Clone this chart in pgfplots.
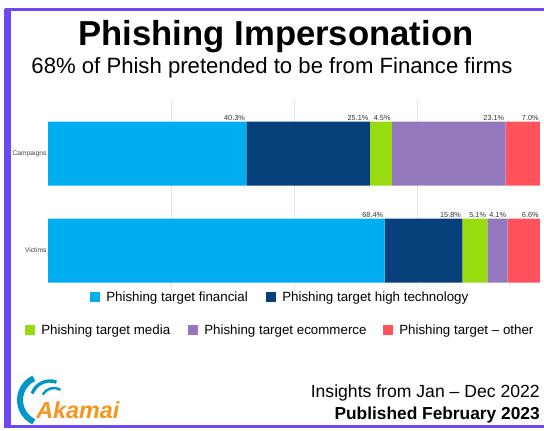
\documentclass[border=0pt]{standalone}
\usepackage{pgfplots}
\pgfplotsset{compat=1.18}
\usepackage{fontspec}
\setmainfont{Liberation Sans}

\definecolor{finance}{RGB}{0,174,239}
\definecolor{hightech}{RGB}{6,63,122}
\definecolor{media}{RGB}{153,221,17}
\definecolor{ecomm}{RGB}{148,120,190}
\definecolor{other}{RGB}{255,82,92}
\definecolor{frame}{RGB}{110,72,245}
\definecolor{akaorange}{RGB}{247,148,29}
\definecolor{akablue}{RGB}{0,150,200}

\begin{document}
\begin{tikzpicture}[x=0.75pt,y=0.75pt]
\path[use as bounding box] (0,0) rectangle (544,430);
% frame
\draw[frame, line width=4.5] (7.5,2) -- (7.5,421.5);
\draw[frame, line width=2.6] (5,420.5) -- (544,420.5);
\draw[frame, line width=2.2] (5,3.5) -- (544,3.5);

% titles
\node[anchor=base, inner sep=0, font=\fontsize{26}{30}\selectfont\bfseries] at (276,385) {Phishing Impersonation};
\node[anchor=base, inner sep=0, font=\fontsize{16.6}{20}\selectfont] at (272,357) {68\% of Phish pretended to be from Finance firms};

\begin{axis}[
    at={(36pt,105pt)}, anchor=south west,
    width=369pt, height=142.5pt, scale only axis,
    xbar stacked,
    bar width=48pt,
    xmin=0, xmax=100,
    ymin=-0.407, ymax=1.552,
    xtick={25,50,75}, xticklabels={},
    xmajorgrids, grid style={black!10},
    ytick={0,1}, yticklabels={Victims,Campaigns},
    yticklabel style={font=\fontsize{5}{6}\selectfont, text=black!75, inner sep=1pt},
    axis line style={draw=none},
    major tick style={draw=none},
    /pgf/number format/assume math mode=true,
    point meta=explicit,
    visualization depends on={rawx \as \segw},
    nodes near coords={\pgfmathprintnumber[fixed,precision=1,fixed zerofill]{\pgfplotspointmeta}\%},
    every node near coord/.append style={anchor=south east, yshift=24pt, xshift={\segw*1.845pt},
        inner sep=0.8pt, font=\fontsize{5.5}{6}\selectfont, text=black!80},
]
\addplot[fill=finance, draw=none] coordinates {(68.4,0) [68.4] (40.3,1) [40.3]};
\addplot[fill=hightech, draw=none] coordinates {(15.8,0) [15.8] (25.1,1) [25.1]};
\addplot[fill=media, draw=none] coordinates {(5.1,0) [5.1] (4.5,1) [4.5]};
\addplot[fill=ecomm, draw=none] coordinates {(4.1,0) [4.1] (23.1,1) [23.1]};
\addplot[fill=other, draw=none] coordinates {(6.6,0) [6.6] (7.0,1) [7.0]};
\end{axis}

% legend
\begin{scope}[every node/.style={anchor=base west, inner sep=0, font=\fontsize{10}{12}\selectfont}]
\fill[finance] (90,128) rectangle (100,138);
\node at (106,128.5) {Phishing target financial};
\fill[hightech] (266,128) rectangle (276,138);
\node at (282,128.5) {Phishing target high technology};
\fill[media] (25,95) rectangle (35,105);
\node at (41,95.5) {Phishing target media};
\fill[ecomm] (188,95) rectangle (198,105);
\node at (204,95.5) {Phishing target ecommerce};
\fill[other] (383,95) rectangle (393,105);
\node at (399,95.5) {Phishing target -- other};
\end{scope}

% footer
\node[anchor=base east, inner sep=0, font=\fontsize{13.2}{15}\selectfont] at (540,33) {Insights from Jan -- Dec 2022};
\node[anchor=base east, inner sep=0, font=\fontsize{13}{15}\selectfont\bfseries] at (540,11) {Published February 2023};

% logo
\draw[akablue, line width=4.5] ([shift={(115:24)}]44,30) arc (115:245:24);
\draw[akablue, line width=2.5] ([shift={(70:19)}]50,30) arc (70:160:19);
\draw[akablue, line width=1.8] ([shift={(60:13)}]54,29) arc (60:150:13);
\node[anchor=base west, inner sep=0, text=akaorange, font=\fontsize{17.5}{20}\selectfont\bfseries\itshape] at (36,12) {Akamai};
\end{tikzpicture}
\end{document}
